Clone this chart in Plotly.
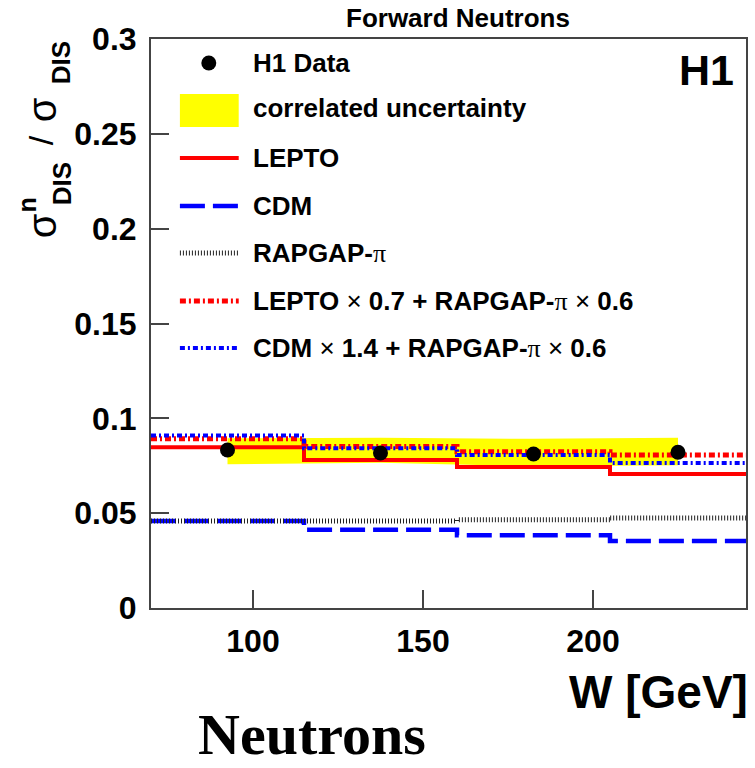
import plotly.graph_objects as go

# ---------------- data ----------------
W_edges = [70, 115, 160, 205, 245]
W_data = [92.5, 137.5, 182.5, 225]
ratio_data = [0.0833, 0.0817, 0.0812, 0.0821]
band_upper = [0.0895, 0.0897, 0.0892, 0.0897]
band_lower = [0.0758, 0.0766, 0.0747, 0.0752]
lepto = [0.0847, 0.0780, 0.0743, 0.0706]
cdm = [0.0459, 0.0412, 0.0384, 0.0353]
rapgap = [0.0459, 0.0459, 0.0465, 0.0474]
lepto_mix = [0.0892, 0.0851, 0.0824, 0.0807]
cdm_mix = [0.0909, 0.0842, 0.0807, 0.0765]

x_ticks = [100, 150, 200]
x_range = [70, 245]
y_range = [0, 0.3]

SANS = "Liberation Sans, Arial, sans-serif"
NX = "<span style='font-weight:normal'> ×</span>"
PI = "<span style='font-family:Liberation Serif;font-weight:normal'>π</span>"
legend_labels = [
    "H1 Data",
    "correlated uncertainty",
    "LEPTO",
    "CDM",
    "RAPGAP-" + PI,
    "LEPTO" + NX + " 0.7 + RAPGAP-" + PI + NX + " 0.6",
    "CDM" + NX + " 1.4 + RAPGAP-" + PI + NX + " 0.6",
]

# ---------------- geometry (pixels) ----------------
FW, FH = 755, 768
L, R, T, B = 151, 748, 39, 608


def px(x):
    return (x - L) / (R - L)


def py(y):
    return (B - y) / (B - T)


def step(v):
    return list(v) + [v[-1]]


fig = go.Figure()

# correlated uncertainty band
fig.add_trace(go.Scatter(x=W_data, y=band_lower, mode="lines", line=dict(width=0),
                         showlegend=False, hoverinfo="skip"))
fig.add_trace(go.Scatter(x=W_data, y=band_upper, mode="lines", line=dict(width=0),
                         fill="tonexty", fillcolor="#ffff00", showlegend=False, hoverinfo="skip"))

styles = {
    "lepto": dict(color="#ff0000", width=4, dash="solid"),
    "cdm": dict(color="#0000ff", width=4.5, dash="25px,8px"),
    "rapgap": dict(color="#222222", width=5, dash="1px,2px"),
    "lepto_mix": dict(color="#ff0000", width=5, dash="6px,3px,2px,3px"),
    "cdm_mix": dict(color="#0000ff", width=4, dash="5px,3px,2px,3px"),
}

for name, vals in [("lepto", lepto), ("cdm", cdm), ("rapgap", rapgap),
                   ("lepto_mix", lepto_mix), ("cdm_mix", cdm_mix)]:
    fig.add_trace(go.Scatter(x=W_edges, y=step(vals), mode="lines", line_shape="hv",
                             line=styles[name], showlegend=False, hoverinfo="skip"))

fig.add_trace(go.Scatter(x=W_data, y=ratio_data, mode="markers",
                         marker=dict(color="black", size=15), showlegend=False))

# ---------------- manual legend ----------------
shapes = []
annotations = []
rows_y = [63, 108, 158, 206, 253, 301, 348]
kx0, kx1, tx = 180, 239, 251
shapes.append(dict(type="circle", xref="paper", yref="paper",
                   x0=px(209 - 7.5), x1=px(209 + 7.5), y0=py(rows_y[0] + 7.5), y1=py(rows_y[0] - 7.5),
                   fillcolor="black", line=dict(width=0)))
shapes.append(dict(type="rect", xref="paper", yref="paper",
                   x0=px(kx0), x1=px(kx1), y0=py(127), y1=py(94),
                   fillcolor="#ffff00", line=dict(width=0)))
for key, yy in zip(["lepto", "cdm", "rapgap", "lepto_mix", "cdm_mix"], rows_y[2:]):
    st = styles[key]
    shapes.append(dict(type="line", xref="paper", yref="paper",
                       x0=px(kx0), x1=px(kx1), y0=py(yy), y1=py(yy),
                       line=dict(color=st["color"], width=st["width"], dash=st["dash"])))
for lab, yy in zip(legend_labels, rows_y):
    annotations.append(dict(text=lab, xref="paper", yref="paper", x=px(tx), y=py(yy),
                            xanchor="left", yanchor="middle", showarrow=False,
                            font=dict(family=SANS, size=26, color="black", weight="bold")))

# title, H1, axis labels
annotations.append(dict(text="Forward Neutrons", xref="paper", yref="paper", x=px(459), y=py(18),
                        xanchor="center", yanchor="middle", showarrow=False,
                        font=dict(family=SANS, size=26, color="black", weight="bold")))
annotations.append(dict(text="H1", xref="paper", yref="paper", x=px(738), y=py(70),
                        xanchor="right", yanchor="middle", showarrow=False,
                        font=dict(family=SANS, size=43, color="black", weight="bold")))
annotations.append(dict(text="W [GeV]", xref="paper", yref="paper", x=px(752), y=py(692),
                        xanchor="right", yanchor="middle", showarrow=False,
                        font=dict(family=SANS, size=46, color="black", weight="bold")))
annotations.append(dict(text="Neutrons", xref="paper", yref="paper", x=px(313), y=py(734),
                        xanchor="center", yanchor="middle", showarrow=False,
                        font=dict(family="Liberation Serif, Times New Roman, serif", size=58,
                                  color="black", weight="bold")))

# y-axis title pieces (rotated)
ytitle_parts = [
    ("σ", 42, 226, 40, "normal"),
    ("n", 27, 205, 25, "bold"),
    ("DIS", 62, 184, 26, "bold"),
    ("/", 41, 140, 34, "normal"),
    ("σ", 42, 110, 40, "normal"),
    ("DIS", 61, 63, 26, "bold"),
]
for txt, xx, yy, sz, wt in ytitle_parts:
    annotations.append(dict(text=txt, xref="paper", yref="paper", x=px(xx), y=py(yy),
                            xanchor="center", yanchor="middle", showarrow=False, textangle=-90,
                            font=dict(family=SANS, size=sz, color="black", weight=wt)))

axis_common = dict(showline=True, linecolor="#444444", linewidth=2, mirror=True,
                   ticks="inside", ticklen=18, tickwidth=1.5, tickcolor="#444444",
                   showgrid=False, zeroline=False,
                   tickfont=dict(family=SANS, size=32, color="black", weight="bold"))

fig.update_layout(
    width=FW, height=FH,
    margin=dict(l=L, r=FW - R, t=T, b=FH - B),
    paper_bgcolor="white", plot_bgcolor="white",
    showlegend=False,
    xaxis=dict(range=x_range, tickvals=x_ticks, ticklabelstandoff=4, **axis_common),
    yaxis=dict(range=y_range, dtick=0.05, tick0=0, ticklabelstandoff=6, **axis_common),
    shapes=shapes, annotations=annotations,
)

fig.write_html("out.html")
